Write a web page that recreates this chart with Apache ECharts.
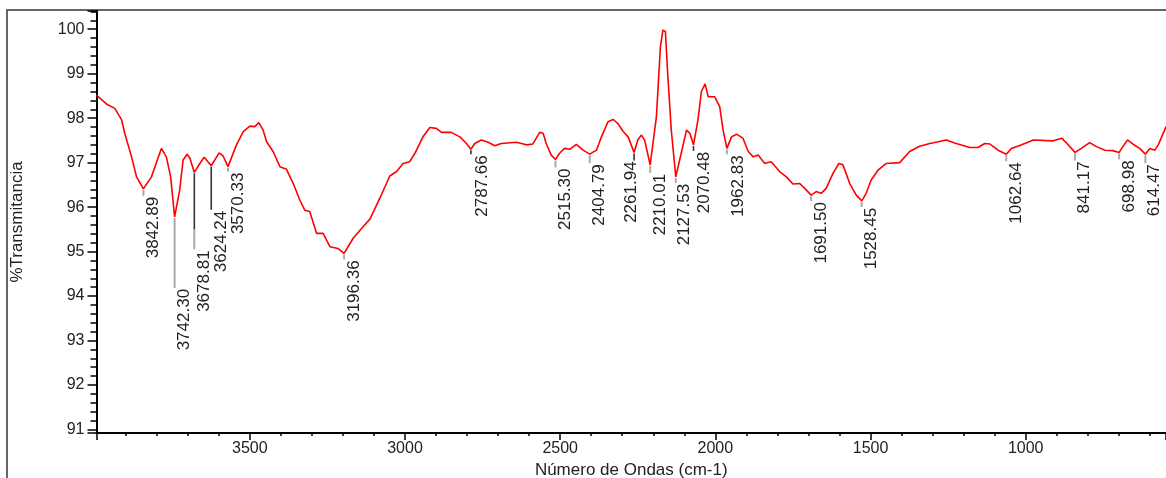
<!DOCTYPE html>
<html><head><meta charset="utf-8">
<script src="https://cdn.jsdelivr.net/npm/echarts@6/dist/echarts.min.js"></script>
<style>html,body{margin:0;padding:0;background:#fff;}#c{width:1166px;height:478px;}</style>
</head><body><div id="c"></div>
<script>
// Wavenumber (cm-1) and %T
const wavenumbers = [3994,3962,3935,3913,3903,3881,3865,3842.89,3817,3800,3785,3769,3755,3742.30,3726,3715,3702,3693,3678.81,3661,3647,3624.24,3599,3586,3570.33,3543,3521,3500,3484,3471,3457,3446,3425,3403,3382,3360,3339,3323,3307,3285,3264,3242,3216,3196.36,3167,3140,3113,3081,3049,3027,3006,2985,2968,2942,2920,2899,2882,2851,2823,2802,2787.66,2775,2754,2732,2711,2690,2641,2609,2588,2577,2566,2555,2545,2529,2515.30,2502,2486,2469,2448,2426,2404.79,2383,2367,2346,2329,2313,2297,2281,2261.94,2250,2238,2228,2210.01,2190,2177,2169,2161,2153,2142,2127.53,2110,2093,2082,2070.48,2056,2045,2033,2023,2002,1986,1975,1962.83,1948,1932,1911,1894,1878,1862,1841,1820,1793,1771,1750,1728,1712,1691.50,1675,1659,1643,1621,1602,1589,1567,1546,1528.45,1514,1498,1476,1450,1406,1374,1342,1309,1282,1256,1224,1180,1154,1132,1116,1089,1062.64,1046,1013,975,911,884,867,841.17,821,794,772,745,719,698.98,687,672,655,633,614.47,600,584,573,562,548];
const transmittance = [98.52,98.32,98.22,97.96,97.66,97.13,96.68,96.41,96.68,97.02,97.32,97.13,96.68,95.78,96.38,97.06,97.19,97.10,96.78,96.98,97.12,96.93,97.22,97.15,96.91,97.40,97.70,97.82,97.81,97.90,97.73,97.47,97.25,96.91,96.85,96.53,96.16,95.93,95.90,95.41,95.41,95.11,95.07,94.96,95.30,95.52,95.73,96.20,96.70,96.80,96.98,97.02,97.21,97.58,97.79,97.77,97.68,97.68,97.58,97.43,97.30,97.43,97.51,97.46,97.38,97.43,97.46,97.40,97.42,97.55,97.68,97.66,97.43,97.17,97.07,97.21,97.32,97.30,97.41,97.28,97.19,97.28,97.58,97.92,97.97,97.87,97.70,97.58,97.23,97.51,97.62,97.51,96.95,98.03,99.61,99.98,99.95,98.93,97.73,96.68,97.21,97.73,97.66,97.40,97.96,98.60,98.77,98.48,98.48,98.26,97.73,97.32,97.58,97.64,97.55,97.25,97.13,97.17,96.98,97.02,96.80,96.68,96.52,96.53,96.42,96.27,96.35,96.31,96.42,96.76,96.98,96.95,96.53,96.27,96.14,96.31,96.61,96.83,96.98,97.00,97.25,97.37,97.43,97.47,97.51,97.43,97.34,97.34,97.43,97.42,97.28,97.19,97.32,97.40,97.51,97.49,97.55,97.43,97.23,97.32,97.45,97.36,97.28,97.27,97.23,97.36,97.51,97.42,97.32,97.19,97.32,97.28,97.40,97.58,97.81];

// Labelled peaks
const peakWavenumbers = [3842.89,3742.30,3678.81,3624.24,3570.33,3196.36,2787.66,2515.30,2404.79,2261.94,2210.01,2127.53,2070.48,1962.83,1691.50,1528.45,1062.64,841.17,698.98,614.47];
const peakLabels = ['3842.89','3742.30','3678.81','3624.24','3570.33','3196.36','2787.66','2515.30','2404.79','2261.94','2210.01','2127.53','2070.48','1962.83','1691.50','1528.45','1062.64','841.17','698.98','614.47'];

// Axis settings
const xRange = [548, 3994];
const yRange = [90.92, 100.41];
const xStep = 500;
const yStep = 1;

// annotation layout (pixels): leader length, dark part of leader, label x shift
const peakLeader =     [6,70,76,43,4,5,4,7,8,7,7,5,5,5,5,5,6,7,6,8];
const peakLeaderDark = [0,0,56,43,0,0,4,0,0,7,0,0,5,0,0,0,0,0,0,0];
const peakDx =         [10,10,10,10,10,10,11,10,10,-3,10,9,11,11,10,10,10,9,10,9];

const chart = echarts.init(document.getElementById('c'), null, {renderer:'canvas'});
const txt = '#222';
const font = '"Liberation Sans", Arial, sans-serif';

function lookupT(w){
  const i = wavenumbers.indexOf(w);
  return transmittance[i];
}

chart.setOption({
  animation:false,
  backgroundColor:'#fff',
  graphic:[{type:'rect', shape:{x:7,y:10,width:1400,height:600}, style:{fill:null, stroke:'#666', lineWidth:2}, silent:true, z:-1}],
  grid:{left:96.5, right:0, top:11, bottom:45, containLabel:false, outerBoundsMode:'none'},
  xAxis:{
    type:'value', inverse:true, min:xRange[0], max:xRange[1],
    minInterval:xStep, maxInterval:xStep, splitNumber:6,
    name:'Número de Ondas (cm-1)', nameLocation:'middle', nameGap:26,
    nameTextStyle:{color:txt, fontSize:17, fontFamily:font},
    axisLine:{show:true, onZero:false, lineStyle:{color:'#000', width:2}},
    axisTick:{show:true, length:7, lineStyle:{color:'#000', width:1.5}},
    minorTick:{show:true, splitNumber:5, length:3, lineStyle:{color:'#000', width:1.5}},
    axisLabel:{color:txt, fontSize:16, fontFamily:font, margin:8, showMinLabel:false, showMaxLabel:false,
      formatter:function(v){ return String(v); }},
    splitLine:{show:false}, minorSplitLine:{show:false}
  },
  yAxis:{
    type:'value', min:yRange[0], max:yRange[1],
    minInterval:yStep, maxInterval:yStep, splitNumber:9,
    name:'%Transmitancia', nameLocation:'middle', nameGap:71, nameRotate:90,
    nameTextStyle:{color:txt, fontSize:17, fontFamily:font},
    axisLine:{show:true, onZero:false, lineStyle:{color:'#000', width:2}},
    axisTick:{show:true, length:9, lineStyle:{color:'#000', width:1.5}},
    minorTick:{show:true, splitNumber:5, length:6, lineStyle:{color:'#000', width:1.5}},
    axisLabel:{color:txt, fontSize:16, fontFamily:font, margin:12, showMinLabel:false, showMaxLabel:false,
      formatter:function(v){ return String(v); }},
    splitLine:{show:false}, minorSplitLine:{show:false}
  },
  series:[
    {
      type:'line', data:wavenumbers.map((w,i)=>[w, transmittance[i]]),
      showSymbol:false, symbol:'none', smooth:false, clip:true,
      lineStyle:{color:'#ff0000', width:1.6}, z:3
    },
    {
      type:'custom', coordinateSystem:'cartesian2d', clip:false, silent:true, z:4,
      data:peakWavenumbers.map((w,i)=>[w, lookupT(w), i]),
      encode:{x:0, y:1},
      renderItem:function(params, api){
        const i = api.value(2);
        const p = api.coord([api.value(0), api.value(1)]);
        const lead = peakLeader[i], dark = peakLeaderDark[i];
        const ch = [];
        const y0 = p[1] + 1;
        if (dark > 0) {
          ch.push({type:'line', shape:{x1:p[0], y1:y0, x2:p[0], y2:y0+dark}, style:{stroke:'#333', lineWidth:1.6}});
        }
        if (lead > dark) {
          ch.push({type:'line', shape:{x1:p[0], y1:y0+dark, x2:p[0], y2:y0+lead}, style:{stroke:'#aaa', lineWidth:2}});
        }
        ch.push({type:'text', x:p[0]+peakDx[i], y:y0+lead+1, rotation:Math.PI/2,
          style:{text:peakLabels[i], fill:txt, font:'17px ' + font, align:'right', verticalAlign:'middle'}});
        return {type:'group', children:ch};
      }
    }
  ]
});
</script></body></html>
